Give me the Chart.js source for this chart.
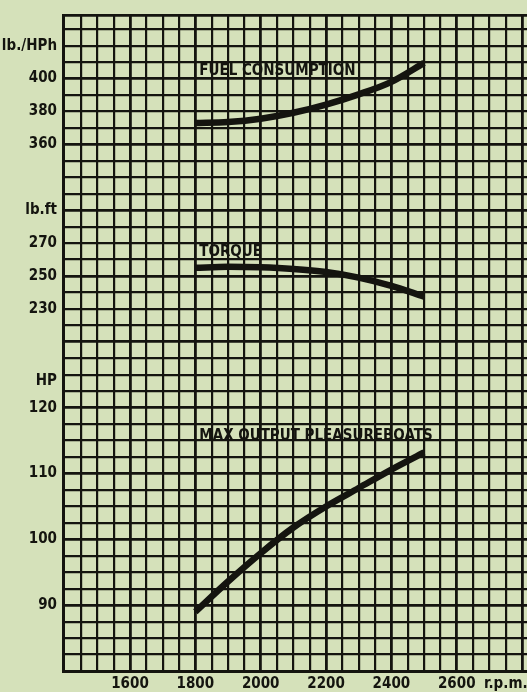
<!DOCTYPE html>
<html lang="en">

<head>
  <meta charset="UTF-8" />
  <title>Engine performance curves</title>
  <script src="https://cdn.jsdelivr.net/npm/chart.js"></script>
  <style>
    body { margin: 0; background: #d5e1ba; }
    #wrap { width: 527px; height: 692px; }
  </style>
</head>

<body>
  <div id="wrap"><canvas id="engineChart"></canvas></div>

  <script>
    // values
    const rpm = [1800, 1900, 2000, 2100, 2200, 2300, 2400, 2500];
    const fuel = [373, 373.6, 375.6, 379.2, 384.2, 390.4, 398, 409.5];
    const torque = [255, 255.6, 255.3, 254.3, 252.4, 249, 244, 237.5];
    const maxOutput = [89, 93.6, 97.9, 101.8, 105, 107.8, 110.6, 113.2];

    const rpmTicks = [1600, 1800, 2000, 2200, 2400, 2600];
    const rpmUnitTick = 2750;
    const fuelTicks = [400, 380, 360];
    const torqueTicks = [270, 250, 230];
    const hpTicks = [120, 110, 100, 90];
    const unitNames = ["lb./HPh", "lb.ft", "HP"];
    const unitRows = [2, 12, 22.4];
    const curveNames = ["FUEL CONSUMPTION", "TORQUE", "MAX OUTPUT PLEASUREBOATS"];
    const curveNameRows = [3.8, 14.8, 25.95];

    // grid paper: rows counted from the top, 40 rows
    const rowTop = 0.14, rowBottom = 40;
    const xMin = 1395, xMax = 2815;

    // each quantity: value on a reference row and value per row
    const fuelCal = { value: 400, row: 4, perRow: 10 };
    const torqueCal = { value: 250, row: 16, perRow: 10 };
    const hpCal = { value: 120, row: 24, perRow: 2.5 };

    function rangeFor(cal) {
      return {
        min: cal.value - (rowBottom - cal.row) * cal.perRow,
        max: cal.value + (cal.row - rowTop) * cal.perRow
      };
    }
    function rowOf(cal, v) {
      return cal.row + (cal.value - v) / cal.perRow;
    }

    const rowLabels = {};
    unitNames.forEach((n, i) => rowLabels[unitRows[i]] = n);
    fuelTicks.forEach(v => rowLabels[rowOf(fuelCal, v)] = String(v));
    torqueTicks.forEach(v => rowLabels[rowOf(torqueCal, v)] = String(v));
    hpTicks.forEach(v => rowLabels[rowOf(hpCal, v)] = String(v));

    const ink = "#14140f";
    const paper = "#d5e1ba";
    const fontFamily = '"Liberation Sans Narrow", "DejaVu Sans Condensed", "Liberation Sans", sans-serif';
    const labelFont = { family: fontFamily, size: 15, weight: "bold" };

    const bgPlugin = {
      id: "paper",
      beforeDraw(chart) {
        const ctx = chart.ctx;
        ctx.save();
        ctx.fillStyle = paper;
        ctx.fillRect(0, 0, chart.width, chart.height);
        ctx.restore();
      }
    };

    const namePlugin = {
      id: "curveNames",
      afterDatasetsDraw(chart) {
        const ctx = chart.ctx;
        const x = chart.scales.x.getPixelForValue(1812);
        ctx.save();
        ctx.fillStyle = ink;
        ctx.font = "bold 15px " + fontFamily;
        ctx.textBaseline = "alphabetic";
        curveNames.forEach((name, i) => {
          ctx.fillText(name, x, chart.scales.y.getPixelForValue(curveNameRows[i]));
        });
        ctx.restore();
      }
    };

    const curve = (label, data, axis) => ({
      label,
      data: rpm.map((r, i) => ({ x: r, y: data[i] })),
      yAxisID: axis,
      borderColor: ink,
      borderWidth: 6.5,
      borderCapStyle: "butt",
      pointRadius: 0,
      cubicInterpolationMode: "monotone",
      fill: false
    });

    new Chart(document.getElementById("engineChart"), {
      type: "line",
      data: {
        datasets: [
          curve("Fuel consumption", fuel, "yFuel"),
          curve("Torque", torque, "yTorque"),
          curve("Max output pleasureboats", maxOutput, "yHP")
        ]
      },
      options: {
        responsive: true,
        maintainAspectRatio: false,
        animation: false,
        layout: { padding: { top: 10, right: 0, left: 0, bottom: 0 } },
        plugins: { legend: { display: false }, tooltip: { enabled: false } },
        scales: {
          x: {
            type: "linear",
            min: xMin,
            max: xMax,
            afterBuildTicks: scale => {
              const ticks = [];
              for (let v = 1450; v < xMax; v += 50) ticks.push({ value: v });
              scale.ticks = ticks;
            },
            afterFit: scale => { scale.height = 21; },
            ticks: {
              autoSkip: false,
              maxRotation: 0,
              minRotation: 0,
              padding: 4,
              color: ink,
              font: labelFont,
              callback: v => v === rpmUnitTick ? "r.p.m." : (rpmTicks.includes(v) ? String(v) : "")
            },
            grid: {
              drawTicks: false,
              color: ink,
              lineWidth: ctx => ((ctx.tick.value - 1800) % 200 === 0 ? 2.8 : 2.2)
            },
            border: { display: true, color: ink, width: 3 }
          },
          y: {
            type: "linear",
            reverse: true,
            min: rowTop,
            max: rowBottom,
            afterBuildTicks: scale => {
              const ticks = [{ value: rowTop }];
              for (let r = 1; r <= rowBottom; r++) ticks.push({ value: r });
              unitRows.forEach(r => { if (r % 1 !== 0) ticks.push({ value: r }); });
              ticks.sort((a, b) => a.value - b.value);
              scale.ticks = ticks;
            },
            afterFit: scale => { scale.width = 63; },
            ticks: {
              autoSkip: false,
              padding: 6,
              color: ink,
              font: labelFont,
              callback: v => rowLabels[v] || ""
            },
            grid: {
              drawTicks: false,
              color: ctx => (ctx.tick.value % 1 !== 0 && ctx.tick.value !== rowTop ? "rgba(0,0,0,0)" : ink),
              lineWidth: ctx => (ctx.tick.value % 4 === 0 || ctx.tick.value === rowTop ? 2.8 : 2.2)
            },
            border: { display: true, color: ink, width: 3 }
          },
          yFuel: { type: "linear", display: false, ...rangeFor(fuelCal) },
          yTorque: { type: "linear", display: false, ...rangeFor(torqueCal) },
          yHP: { type: "linear", display: false, ...rangeFor(hpCal) }
        }
      },
      plugins: [bgPlugin, namePlugin]
    });
  </script>
</body>

</html>
